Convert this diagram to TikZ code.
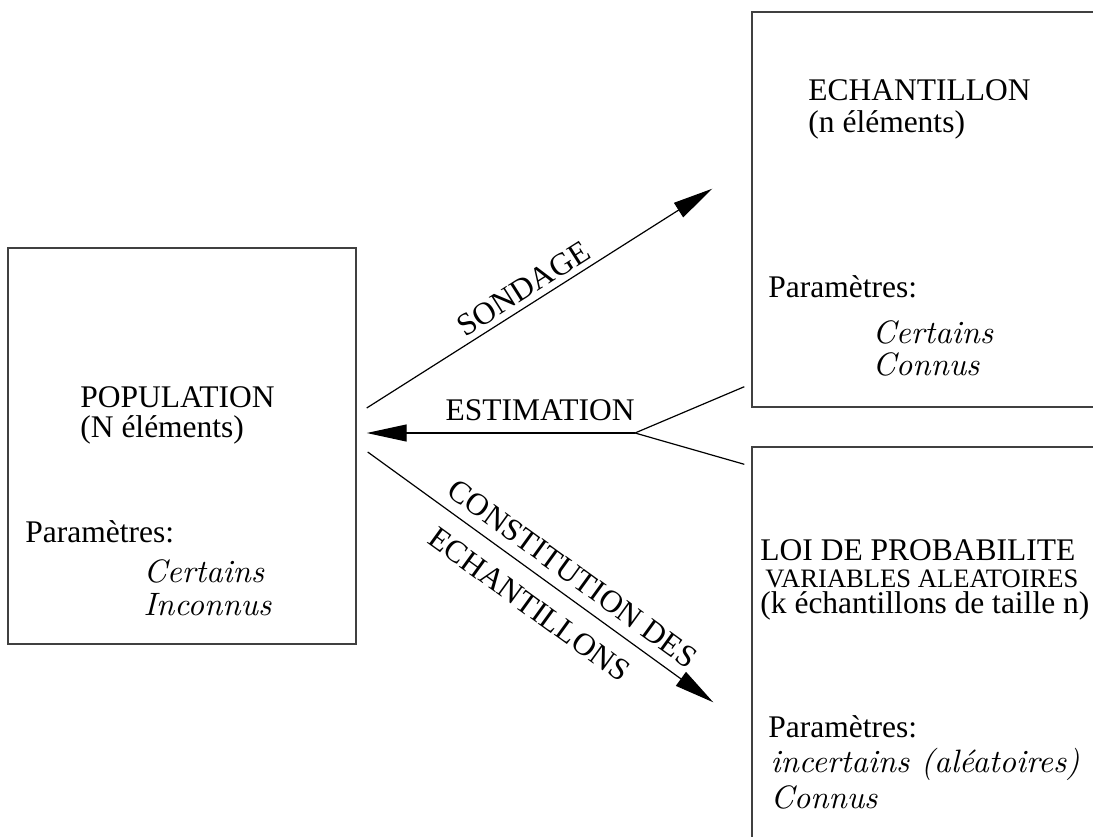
\documentclass[tikz,border=0pt]{standalone}
\usepackage{fontspec}
\newfontfamily\tms{Liberation Serif}
\usetikzlibrary{arrows.meta,calc}
\begin{document}
\begin{tikzpicture}[x=0.5pt,y=-0.5pt,
  boxnode/.style={draw=black!75,line width=0.7pt,inner sep=0pt,minimum width=#1},
  txt/.style={inner sep=0pt,anchor=base west,font=\tms\fontsize{15.75}{18}\selectfont},
  smalltxt/.style={inner sep=0pt,anchor=base west,font=\tms\fontsize{13.3}{15}\selectfont},
  ittxt/.style={inner sep=0pt,anchor=base west,scale=1.62,font=\fontsize{10}{12}\selectfont\itshape},
  lbl/.style={font=\tms\fontsize{15.75}{18}\selectfont,sloped},
  conn/.style={line width=0.6pt,black},
  arr/.style={conn,-{Triangle[length=20pt,width=8.5pt]}}]
\useasboundingbox (0,0) rectangle (1093,836);
\clip (0,0) rectangle (1093,836);
\fill[white] (0,0) rectangle (1093,836);
% boxes
\node[boxnode=174pt,minimum height=198pt] (pop) at (182,446) {};
\node[boxnode=274pt,minimum height=197.5pt] (ech) at (1026,209.5) {};
\node[boxnode=274pt,minimum height=276.5pt] (loi) at (1026,723.5) {};
% population texts
\node[txt] (p1) at (80,407) {POPULATION};
\node[txt] (p2) at (80,437) {(N éléments)};
\node[txt] (p3) at (25,542) {Paramètres:};
\node[ittxt] (p4) at (143,582) {Certains};
\node[ittxt] (p5) at (143,615) {Inconnus};
% echantillon texts
\node[txt] (e1) at (808,100) {ECHANTILLON};
\node[txt] (e2) at (808,132) {(n éléments)};
\node[txt] (e3) at (768,297) {Paramètres:};
\node[ittxt] (e4) at (872,343) {Certains};
\node[ittxt] (e5) at (872,375) {Connus};
% loi texts
\node[txt] (l1) at (760,560) {LOI DE PROBABILITE};
\node[smalltxt] (l2) at (765,587) {VARIABLES ALEATOIRES};
\node[txt] (l3) at (760,613) {(k échantillons de taille n)};
\node[txt] (l4) at (768,737) {Paramètres:};
\node[ittxt] (l5) at (770,772) {incertains (aléatoires)};
\node[ittxt] (l6) at (770,808) {Connus};
% coordinates
\coordinate (s0) at ($(pop.east)+(10,-38)$);
\coordinate (s1) at ($(ech.south west)+(-39,-219)$);
\coordinate (c0) at ($(pop.east)+(11,6)$);
\coordinate (c1) at ($(loi.north west)+(-38,256)$);
\coordinate (e0) at ($(pop.east)+(10,-13)$);
\coordinate (u) at ($(ech.south west)+(-7,-21)$);
\coordinate (d) at ($(loi.north west)+(-7,18)$);
\coordinate (j) at (635,433);
% connectors
\draw[arr] (s0) -- node[lbl,pos=0.48,above,inner sep=2.85pt] {SONDAGE} (s1);
\draw[arr] (c0) --
  node[lbl,pos=0.556,above,inner sep=5.3pt] {CONSTITUTION DES}
  node[lbl,pos=0.516,below,inner sep=8.8pt] {ECHANTILLONS} (c1);
\draw[conn] (u) -- (j) -- (d);
\draw[arr] (j) -- (e0);
\node[inner sep=0pt,anchor=base east,font=\tms\fontsize{15.75}{18}\selectfont] (est) at ($(j)+(0,-13)$) {ESTIMATION};
\end{tikzpicture}
\end{document}
